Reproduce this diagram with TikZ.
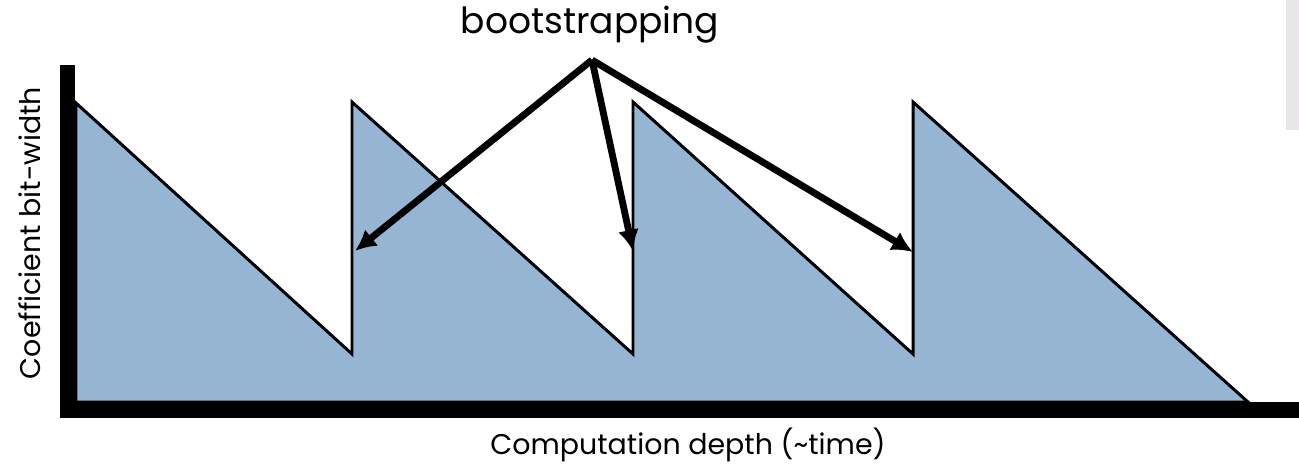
\documentclass[tikz,border=0pt]{standalone}
\usepackage{fontspec}
\setmainfont{Poppins}
\usetikzlibrary{arrows.meta}

\begin{document}
\begin{tikzpicture}[x=0.02cm, y=-0.02cm, every node/.style={inner sep=0pt}]
  \tikzset{saw/.style={draw=black, line width=1.7pt, fill={rgb,255:red,149;green,181;blue,211}, line join=miter}}
  \tikzset{axis/.style={draw=black, line width=9pt}}
  \tikzset{boot/.style={draw=black, line width=3.9pt, -{Latex[length=12pt, width=12pt]}}}
  \tikzset{lbl/.style={font=\fontsize{16.2}{19}\selectfont}}
  \tikzset{margin/.style={fill={rgb,255:red,232;green,230;blue,232}}}
  \useasboundingbox (0,0) rectangle (1299,467);
  % slide margin
  \path[margin] (1286,0) rectangle (1299,130);
  % sawtooth corners
  \coordinate (s0) at (76,103);
  \coordinate (d1) at (352,354);
  \coordinate (u1) at (352,102);
  \coordinate (d2) at (633,354);
  \coordinate (u2) at (633,102);
  \coordinate (d3) at (913,354);
  \coordinate (u3) at (913,102);
  \coordinate (e0) at (1248,402);
  \coordinate (o0) at (76,402);
  \path[saw] (o0) -- (s0) -- (d1) -- (u1) -- (d2) -- (u2) -- (d3) -- (u3) -- (e0) -- cycle;
  % axes
  \draw[axis] (67.5,65) -- (67.5,418);
  \draw[axis] (60,410) -- (1299,410);
  % labels
  \node[lbl, font=\fontsize{20.5}{24}\selectfont, anchor=base] (boot) at (590,33) {bootstrapping};
  \node[lbl, anchor=base] (xlab) at (688,454) {Computation depth (\textasciitilde time)};
  \node[lbl, rotate=90] (ylab) at (30,233) {Coefficient bit-width};
  % bootstrapping arrows
  \coordinate (apex) at (592,60);
  \coordinate (t1) at (355,251);
  \coordinate (t2) at (633,251);
  \coordinate (t3) at (913,252);
  \draw[boot] (apex) -- (t1);
  \draw[boot] (apex) -- (t2);
  \draw[boot] (apex) -- (t3);
\end{tikzpicture}
\end{document}
